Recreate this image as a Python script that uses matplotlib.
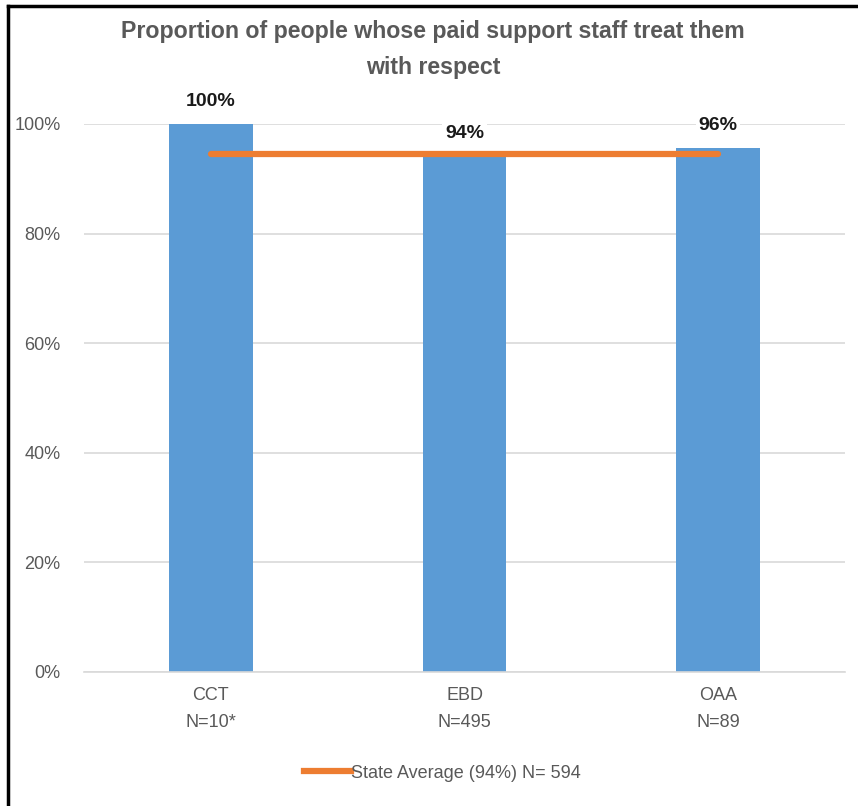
import matplotlib

matplotlib.use("Agg")
import matplotlib.pyplot as plt
from matplotlib.lines import Line2D

categories = ["CCT\nN=10*", "EBD\nN=495", "OAA\nN=89"]
values = [100, 94, 95.6]
value_labels = ["100%", "94%", "96%"]
state_average = 94.5
state_label = "State Average (94%) N= 594"
title = "Proportion of people whose paid support staff treat them\nwith respect"
yticks = [0, 20, 40, 60, 80, 100]

plt.rcParams["font.family"] = ["Liberation Sans", "DejaVu Sans"]

BLUE = "#5B9BD5"
ORANGE = "#ED7D31"
GRAY = "#595959"

W, H = 858, 806
fig = plt.figure(figsize=(W / 100, H / 100), dpi=100)
ax = fig.add_axes([84 / W, 1 - 672 / H, (845 - 84) / W, (672 - 124) / H])

x = list(range(len(categories)))
ax.bar(x, values, width=0.33, color=BLUE, zorder=2)
ax.plot(x, [state_average] * len(x), color=ORANGE, lw=4.5, solid_capstyle="round", zorder=3)

label_y = [104.1, 98.2, 99.7]
for xi, yi, lab in zip(x, label_y, value_labels):
    ax.text(xi, yi, lab, ha="center", va="center", fontsize=14, fontweight="bold",
            color="#1a1a1a", zorder=4,
            bbox=dict(facecolor="white", edgecolor="none", pad=2))

ax.set_xlim(-0.5, len(x) - 0.5)
ax.set_ylim(0, 100)
ax.set_yticks(yticks)
ax.set_yticklabels([f"{t}%" for t in yticks], fontsize=13, color=GRAY)
ax.set_xticks(x)
ax.set_xticklabels(categories, fontsize=13, color=GRAY, linespacing=1.75)
ax.tick_params(length=0, pad=17, axis="y")
ax.tick_params(length=0, pad=11, axis="x")
ax.yaxis.grid(True, color="#D9D9D9", lw=1.2, zorder=0)
ax.set_axisbelow(True)
for s in ax.spines.values():
    s.set_visible(False)
ax.spines["bottom"].set_visible(True)
ax.spines["bottom"].set_color("#D9D9D9")
ax.spines["bottom"].set_linewidth(1.2)

fig.text(433 / W, 1 - 49.5 / H, title, ha="center", va="center", fontsize=16.7,
         fontweight="bold", color=GRAY, linespacing=1.72)

handle = Line2D([], [], color=ORANGE, lw=4.5)
fig.legend([handle], [state_label], loc="center", bbox_to_anchor=(442 / W, 1 - 773 / H),
           frameon=False, fontsize=13, handlelength=2.6, handletextpad=0.0,
           labelcolor=GRAY)

# frame on top and left edge
fig.add_artist(Line2D([8 / W, 1], [1 - 6 / H, 1 - 6 / H], color="black", lw=2.5,
                      transform=fig.transFigure))
fig.add_artist(Line2D([8 / W, 8 / W], [0, 1 - 6 / H], color="black", lw=2.5,
                      transform=fig.transFigure))

fig.savefig("out.png", dpi=100)
